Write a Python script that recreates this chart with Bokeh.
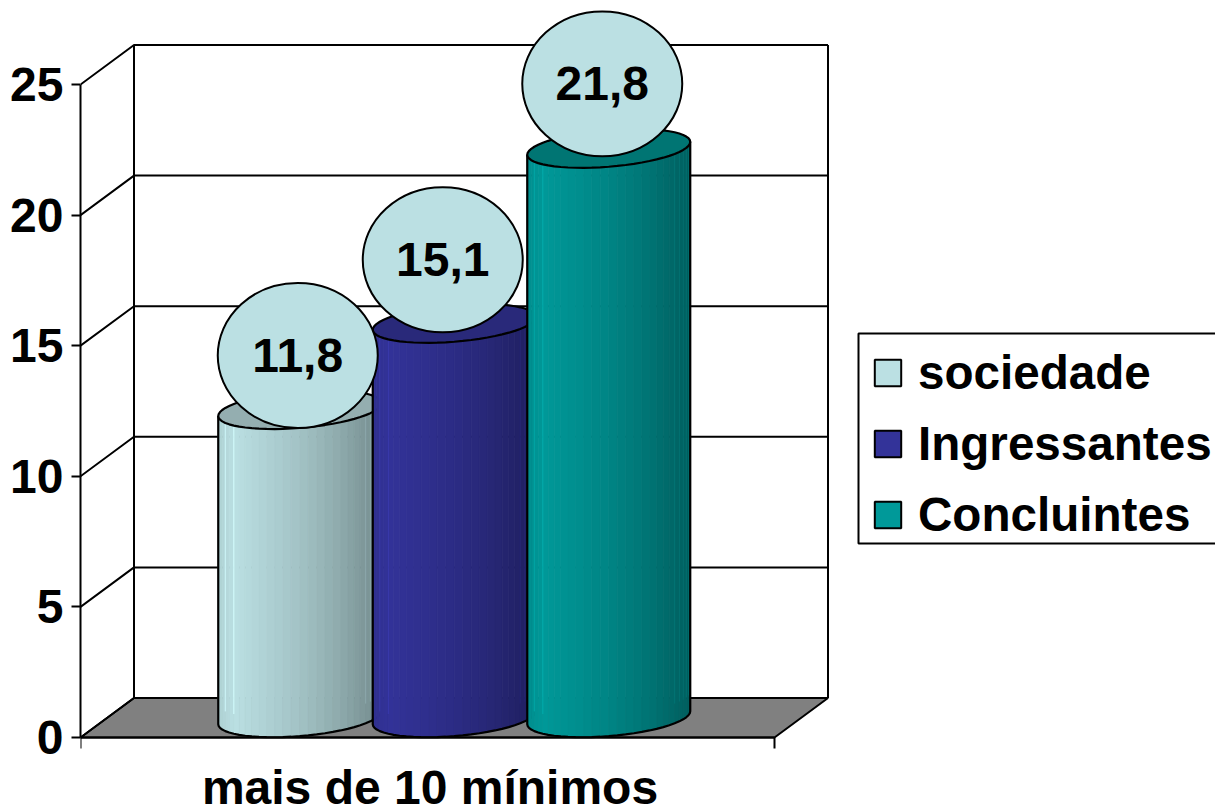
import numpy as np
from bokeh.core.properties import value
from bokeh.embed import file_html
from bokeh.models import FixedTicker, Legend, LegendItem, LinearAxis, Range1d
from bokeh.plotting import figure
from bokeh.resources import INLINE

category = "mais de 10 mínimos"
series_names = ["sociedade", "Ingressantes", "Concluintes"]
series_values = [11.8, 15.1, 21.8]
series_labels = ["11,8", "15,1", "21,8"]
series_colors = ["#BBE0E3", "#333399", "#009999"]
top_colors = ["#94AEB0", "#29297A", "#007573"]
y_ticks = [0, 5, 10, 15, 20, 25]

FONT = "Liberation Sans"
W, H = 1215, 808
LEFT, BOTTOM = 80, 71
PX_X = 694.0          # pixels per category band
PX_Y = 26.12          # pixels per value unit
DEPTH_X = 53.5 / PX_X # wall depth, data units
DEPTH_Y = 39.5 / PX_Y
BAR_STEP = 154.5 / PX_X
RADIUS = 81.5 / PX_X
RISE = 19.5 / PX_Y
T0 = np.arcsin(27.0 / 81.5)
LABEL_DX = [-2 / PX_X, -11.5 / PX_X, -6.5 / PX_X]
LABEL_DY = [54 / PX_Y, 63.5 / PX_Y, 64.5 / PX_Y]
HAIRLINES = [4, 6, 24, 25, 26, 27, 28]

p = figure(
    width=W, height=H, output_backend="svg", toolbar_location=None,
    x_range=Range1d(0, (W - LEFT) / PX_X),
    y_range=Range1d(-BOTTOM / PX_Y, (H - BOTTOM) / PX_Y),
    x_axis_type=None, y_axis_type=None,
    min_border_left=LEFT, min_border_bottom=0, min_border_top=0, min_border_right=0,
)
p.outline_line_color = None
p.background_fill_color = "white"
p.xgrid.visible = False
p.ygrid.visible = False

# floor
p.patch([0, 1, 1 + DEPTH_X, DEPTH_X], [0, 0, DEPTH_Y, DEPTH_Y],
        fill_color="#808080", line_color="black", line_width=2)

# walls and grid
top = max(y_ticks)
p.multi_line(
    [[0, DEPTH_X, 1 + DEPTH_X] for _ in y_ticks],
    [[v, v + DEPTH_Y, v + DEPTH_Y] for v in y_ticks],
    line_color="black", line_width=2)
p.segment([DEPTH_X, 1 + DEPTH_X], [DEPTH_Y] * 2, [DEPTH_X, 1 + DEPTH_X], [top + DEPTH_Y] * 2,
          line_color="black", line_width=2)


def shade(hex_color, f):
    r, g, b = (min(255, int(int(hex_color[i:i + 2], 16) * f)) for i in (1, 3, 5))
    return "#%02x%02x%02x" % (r, g, b)


def front_arc(cx, base, n=30):
    phi = np.linspace(-np.pi, 0, n + 1)
    return cx + RADIUS * np.cos(phi), base + RISE * np.sin(phi + T0)


for i, (val, col, tcol) in enumerate(zip(series_values, series_colors, top_colors)):
    cx = 0.5 + (i - 1) * BAR_STEP + DEPTH_X / 2
    base = DEPTH_Y / 2
    ax, ay = front_arc(cx, base)
    s = (0.5 * (ax[:-1] + ax[1:]) - cx) / RADIUS
    fac = np.interp(s, [-1, -0.8, 0, 0.5, 1], [0.93, 1.0, 0.87, 0.76, 0.62])
    strip_cols = [shade(col, f) for f in fac]
    xs = [[ax[k], ax[k + 1], ax[k + 1], ax[k]] for k in range(len(s))]
    ys = [[ay[k], ay[k + 1], ay[k + 1] + val, ay[k] + val] for k in range(len(s))]
    p.patches(xs, ys, fill_color=strip_cols, line_color=strip_cols, line_width=0.8)
    # sparse lighter seams between the facets
    p.segment([ax[k] for k in HAIRLINES], [ay[k] + DEPTH_Y / 2 for k in HAIRLINES],
              [ax[k] for k in HAIRLINES], [ay[k] + val for k in HAIRLINES],
              line_color=[shade(col, fac[k] * 1.14) for k in HAIRLINES], line_width=1)
    # outline of the side
    p.line(list(ax[:1]) + list(ax) + list(ax[-1:]),
           [ay[0] + val] + list(ay) + [ay[-1] + val], line_color="black", line_width=2.2)
    # top face
    phi = np.linspace(-np.pi, np.pi, 61)
    p.patch(cx + RADIUS * np.cos(phi), base + val + RISE * np.sin(phi + T0),
            fill_color=tcol, line_color="black", line_width=2.2)

# data labels
lab_x = [0.5 + (i - 1) * BAR_STEP + DEPTH_X / 2 + LABEL_DX[i] for i in range(3)]
lab_y = [DEPTH_Y / 2 + series_values[i] + LABEL_DY[i] for i in range(3)]
p.ellipse(lab_x, lab_y, width=160, height=145, width_units="screen", height_units="screen",
          fill_color=series_colors[0], line_color="black", line_width=2)
p.text(lab_x, lab_y, text=series_labels, text_align="center", text_baseline="middle",
       text_font=value(FONT), text_font_style="bold", text_font_size="48px", text_color="black")

# axes
yax = LinearAxis(ticker=FixedTicker(ticks=y_ticks), bounds=(0, top))
yax.axis_line_color = "black"
yax.axis_line_width = 2
yax.major_tick_line_color = "black"
yax.major_tick_line_width = 2
yax.major_tick_in = 0
yax.major_tick_out = 9
yax.minor_tick_line_color = None
yax.major_label_standoff = 8
yax.major_label_text_font = FONT
yax.major_label_text_font_style = "bold"
yax.major_label_text_font_size = "48px"
yax.major_label_text_color = "black"
p.add_layout(yax, "left")

# the category axis sits at value 0 inside the frame, its ticks pointing down
xax = LinearAxis(ticker=FixedTicker(ticks=[0, 1]), bounds=(0, 1), fixed_location=0)
xax.major_label_overrides = {0: "", 1: ""}
xax.major_label_text_font_size = "0px"
xax.major_label_standoff = 0
xax.axis_line_color = "black"
xax.axis_line_width = 2
xax.major_tick_in = 11
xax.major_tick_out = 0
xax.major_tick_line_color = "black"
xax.major_tick_line_width = 2
xax.minor_tick_line_color = None
p.add_layout(xax, "above")

p.text([0.5 + 2.5 / PX_X], [-50 / PX_Y], text=[category], text_align="center",
       text_baseline="middle", text_font=value(FONT), text_font_style="bold",
       text_font_size="48px", text_color="black")

# legend box
p.quad(left=[(858 - LEFT) / PX_X], right=[(W + 20 - LEFT) / PX_X],
       bottom=[(737 - 543) / PX_Y], top=[(737 - 333) / PX_Y],
       fill_color="white", line_color="black", line_width=2)

items = []
for name, col in zip(series_names, series_colors):
    r = p.quad(left=[np.nan], right=[np.nan], top=[np.nan], bottom=[np.nan],
               fill_color=col, line_color="black", line_width=2)
    items.append(LegendItem(label=name, renderers=[r]))
legend = Legend(
    items=items, location=(791, 266), orientation="vertical",
    glyph_width=33, glyph_height=33, label_height=54, label_width=292,
    label_standoff=14, spacing=16, padding=12, margin=0,
    label_text_font=FONT, label_text_font_style="bold", label_text_font_size="47.6px",
    label_text_color="black", label_text_baseline="middle",
    border_line_color=None, background_fill_alpha=0.0,
)
p.add_layout(legend, "center")

open("out.html", "w").write(file_html(p, INLINE))
